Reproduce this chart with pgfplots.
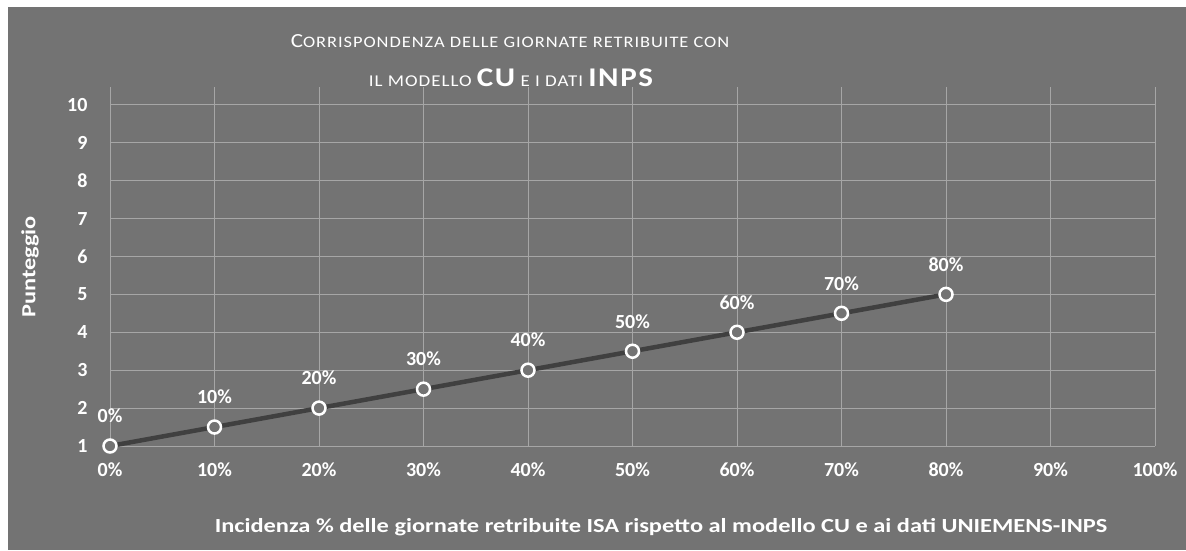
\documentclass[border=0pt]{standalone}
\usepackage{fontspec}
\setmainfont{Carlito}
\usepackage{pgfplots}
\pgfplotsset{compat=1.18}
\definecolor{bg}{RGB}{115,115,115}
\definecolor{gridc}{RGB}{166,166,166}
\definecolor{linec}{RGB}{64,64,64}
\newfontfamily\titlefont[FakeStretch=1.15,LetterSpace=6]{Carlito}
\newfontfamily\widefont[FakeStretch=1.22]{Carlito}
\newfontfamily\pfont[FakeStretch=1.22]{Carlito}
\begin{document}
\begin{tikzpicture}[x=1pt,y=1pt]
\fill[white] (0,0) rectangle (1186,550);
\fill[bg] (8,0) rectangle (1186,543);
\begin{axis}[
  at={(110pt,104pt)}, anchor=south west,
  scale only axis, width=1045pt, height=359pt,
  xmin=0, xmax=100, ymin=1, ymax=10.47,
  xtick={0,10,...,100}, ytick={1,2,...,10},
  xticklabel={\pgfmathprintnumber{\tick}\%},
  grid=major, major grid style={gridc, line width=1pt},
  axis line style={draw=none}, tick style={draw=none},
  ticklabel style={white, font=\fontsize{20}{22}\selectfont\bfseries, /pgf/number format/assume math mode=true},
  xticklabel style={anchor=center, yshift=-24pt},
  yticklabel style={anchor=east, xshift=-19pt},
  clip=false,
]
\addplot[linec, line width=4.5pt, mark=*, mark size=6.5pt,
  mark options={fill=bg, draw=white, line width=2.5pt},
  point meta=x,
  nodes near coords={\pgfmathprintnumber{\pgfplotspointmeta}\%},
  nodes near coords style={white, anchor=center, yshift=30pt, font=\fontsize{20}{22}\selectfont\bfseries, /pgf/number format/assume math mode=true},
] coordinates {(0,1) (10,1.5) (20,2) (30,2.5) (40,3) (50,3.5) (60,4) (70,4.5) (80,5)};
\end{axis}
\node[white, anchor=base, font=\titlefont\fontsize{16}{18}\selectfont] at (510,502) {{\fontsize{20}{24}\selectfont C}ORRISPONDENZA DELLE GIORNATE RETRIBUITE CON};
\node[white, anchor=base, font=\titlefont\fontsize{16.5}{18}\selectfont] at (511,463) {IL MODELLO {\fontsize{27}{30}\selectfont\bfseries CU} E I DATI {\fontsize{27}{30}\selectfont\bfseries INPS}};
\node[white, rotate=90, font=\pfont\fontsize{20}{22}\selectfont\bfseries] at (30,283) {Punteggio};
\node[white, anchor=base, font=\widefont\fontsize{20}{22}\selectfont\bfseries] at (661,18) {Incidenza \% delle giornate retribuite ISA rispetto al modello CU e ai dati UNIEMENS-INPS};
\end{tikzpicture}
\end{document}
